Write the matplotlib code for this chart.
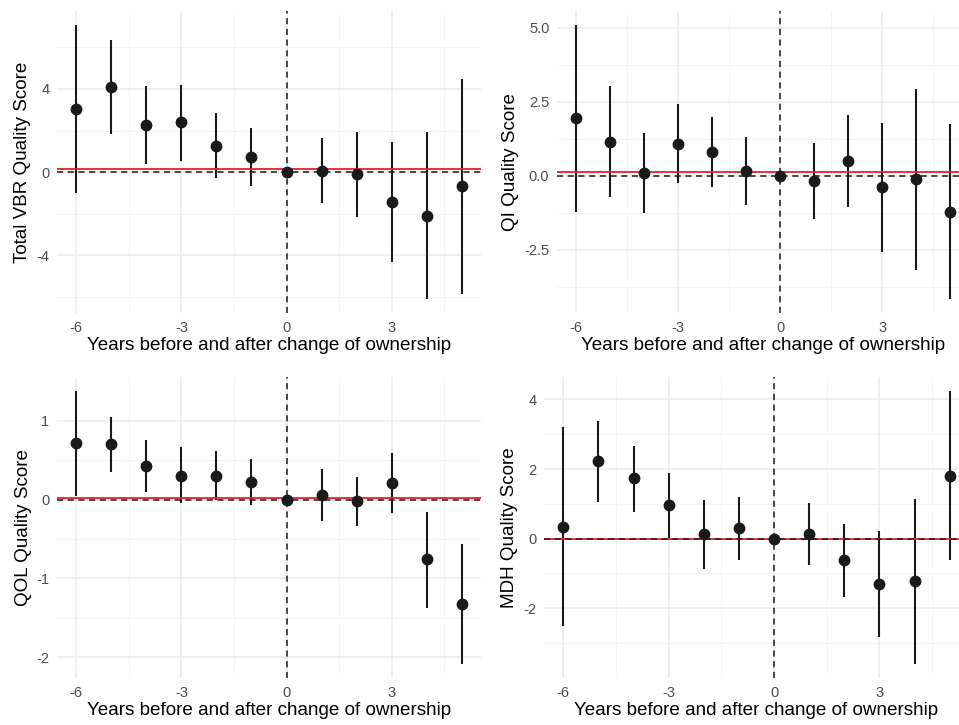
import matplotlib
matplotlib.use("Agg")
import matplotlib.pyplot as plt

plt.rcParams['font.family'] = ['Liberation Sans', 'DejaVu Sans']
plt.rcParams['axes.unicode_minus'] = False

years = [-6, -5, -4, -3, -2, -1, 0, 1, 2, 3, 4, 5]

# Total VBR
vbr_est = [3.03, 4.09, 2.26, 2.39, 1.27, 0.72, 0.0, 0.06, -0.11, -1.44, -2.10, -0.69]
vbr_lo = [-1.01, 1.83, 0.39, 0.55, -0.29, -0.69, 0.0, -1.51, -2.17, -4.35, -6.12, -5.86]
vbr_hi = [7.09, 6.37, 4.16, 4.21, 2.83, 2.12, 0.0, 1.64, 1.94, 1.46, 1.93, 4.48]
vbr_ref = 0.16

# QI
qi_est = [1.95, 1.16, 0.10, 1.08, 0.81, 0.15, 0.0, -0.16, 0.50, -0.38, -0.12, -1.22]
qi_lo = [-1.21, -0.70, -1.26, -0.25, -0.38, -0.99, 0.0, -1.44, -1.06, -2.58, -3.18, -4.17]
qi_hi = [5.11, 3.04, 1.44, 2.44, 1.98, 1.32, 0.0, 1.10, 2.06, 1.80, 2.93, 1.74]
qi_ref = 0.12

# QOL
qol_est = [0.72, 0.70, 0.43, 0.30, 0.30, 0.22, 0.0, 0.06, -0.02, 0.21, -0.76, -1.32]
qol_lo = [0.04, 0.35, 0.09, -0.05, 0.0, -0.07, 0.0, -0.27, -0.33, -0.17, -1.37, -2.09]
qol_hi = [1.38, 1.04, 0.75, 0.66, 0.61, 0.51, 0.0, 0.39, 0.28, 0.59, -0.16, -0.57]
qol_ref = 0.025

# MDH
mdh_est = [0.34, 2.22, 1.73, 0.96, 0.13, 0.31, 0.0, 0.13, -0.61, -1.29, -1.22, 1.81]
mdh_lo = [-2.51, 1.04, 0.76, 0.02, -0.86, -0.60, 0.0, -0.76, -1.67, -2.82, -3.61, -0.60]
mdh_hi = [3.20, 3.38, 2.67, 1.88, 1.12, 1.19, 0.0, 1.03, 0.43, 0.21, 1.15, 4.25]
mdh_ref = 0.0

xlabel = "Years before and after change of ownership"

W, H = 959, 725
fig = plt.figure(figsize=(W / 100, H / 100), dpi=100)


def px_axes(left, top, right, bottom):
    return fig.add_axes([left / W, 1 - bottom / H, (right - left) / W, (bottom - top) / H])


def panel(ax, est, lo, hi, ref, ylabel, yticks, yminor, ylabels):
    ax.set_facecolor('white')
    for s in ax.spines.values():
        s.set_visible(False)
    ax.set_xticks([-6, -3, 0, 3])
    ax.set_xticks([-4.5, -1.5, 1.5, 4.5], minor=True)
    ax.set_yticks(yticks)
    ax.set_yticklabels(ylabels)
    ax.set_yticks(yminor, minor=True)
    ax.grid(True, which='major', color='#EBEBEB', linewidth=1.1)
    ax.grid(True, which='minor', color='#F2F2F2', linewidth=0.6)
    ax.set_axisbelow(True)
    ax.tick_params(which='both', length=0, labelsize=10.5, labelcolor='#4D4D4D', pad=5.5)

    ax.vlines(years, lo, hi, color='#1a1a1a', linewidth=1.5, zorder=2)
    ax.axhline(ref, color='#E8202A', linewidth=1.3, zorder=3)
    ax.axhline(0, color='#1a1a1a', linewidth=1.1, linestyle=(0, (4, 3)), zorder=3.5)
    ax.axvline(0, color='#1a1a1a', linewidth=1.1, linestyle=(0, (4, 3)), zorder=3.5)
    ax.plot(years, est, 'o', color='#1a1a1a', markersize=7.5, zorder=4)

    ymin, ymax = min(lo), max(hi)
    pad = 0.05 * (ymax - ymin)
    ax.set_ylim(ymin - pad, ymax + pad)
    ax.set_xlim(-6.55, 5.55)
    ax.set_xlabel(xlabel, fontsize=13.6, labelpad=2)
    ax.set_ylabel(ylabel, fontsize=13.6, labelpad=3.5)


ax1 = px_axes(57, 11, 481, 313)
panel(ax1, vbr_est, vbr_lo, vbr_hi, vbr_ref, "Total VBR Quality Score",
      [-4, 0, 4], [-6, -2, 2, 6], ["-4", "0", "4"])

ax2 = px_axes(557, 11, 969, 313)
panel(ax2, qi_est, qi_lo, qi_hi, qi_ref, "QI Quality Score",
      [-2.5, 0, 2.5, 5.0], [-3.75, -1.25, 1.25, 3.75], ["-2.5", "0.0", "2.5", "5.0"])

ax3 = px_axes(57, 377, 481, 678)
panel(ax3, qol_est, qol_lo, qol_hi, qol_ref, "QOL Quality Score",
      [-2, -1, 0, 1], [-1.5, -0.5, 0.5], ["-2", "-1", "0", "1"])

ax4 = px_axes(544, 377, 969, 678)
panel(ax4, mdh_est, mdh_lo, mdh_hi, mdh_ref, "MDH Quality Score",
      [-2, 0, 2, 4], [-3, -1, 1, 3], ["-2", "0", "2", "4"])

fig.savefig("out.png", dpi=100, facecolor='white')
